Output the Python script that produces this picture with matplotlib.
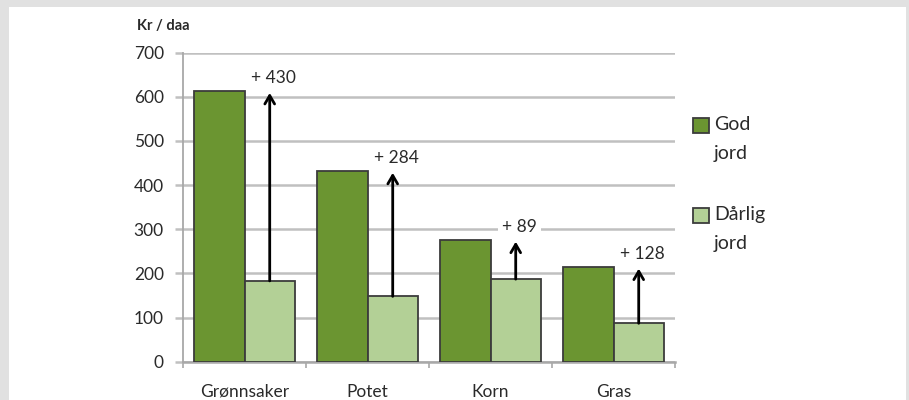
import numpy as np
import matplotlib.pyplot as plt
from matplotlib.patches import Rectangle

plt.rcParams['font.family'] = ['Lato', 'DejaVu Sans']

# Data
categories = ['Grønnsaker', 'Potet', 'Korn', 'Gras']
god_jord = [613, 432, 276, 215]
darlig_jord = [183, 148, 187, 87]
diff_labels = ['+ 430', '+ 284', '+ 89', '+ 128']
series_names = ['God\njord', 'Dårlig\njord']

dark_green = '#6b9531'
light_green = '#b3d096'
edge = '#3c3c3c'
grid_col = '#c0c0c0'
text_col = '#2a2a2a'

fig = plt.figure(figsize=(9.09, 4.0), dpi=100, facecolor='#e1e1e1')
# white card behind the chart
fig.patches.append(Rectangle((9 / 909, 0), 897 / 909, 393 / 400,
                             transform=fig.transFigure, facecolor='white',
                             edgecolor='none', zorder=-1))

ax = fig.add_axes([183 / 909, 38.3 / 400, 492 / 909, 309 / 400])
ax.set_facecolor('none')
ax.set_zorder(1)

x = np.arange(len(categories))
w = 0.41
ax.bar(x - w / 2, god_jord, width=w, color=dark_green, edgecolor=edge,
       linewidth=1.3, zorder=3)
ax.bar(x + w / 2, darlig_jord, width=w, color=light_green, edgecolor=edge,
       linewidth=1.3, zorder=3)

# arrows showing the gain from poor to good soil
for i in range(len(categories)):
    ax.annotate('', xy=(x[i] + w / 2, god_jord[i] - 4),
                xytext=(x[i] + w / 2, darlig_jord[i]),
                arrowprops=dict(arrowstyle='->,head_width=0.35,head_length=0.6',
                                color='black', lw=2, shrinkA=0, shrinkB=0),
                zorder=4)
    ax.text(x[i] + w / 2 + 0.03, god_jord[i] + 30, diff_labels[i], ha='center',
            va='center', fontsize=12.5, color=text_col, zorder=5,
            bbox=dict(facecolor='white', edgecolor='none', pad=3))

ax.set_xlim(-0.5, len(categories) - 0.5)
ax.set_ylim(0, 700)
ax.set_yticks(np.arange(0, 701, 100))
ax.yaxis.grid(True, color=grid_col, linewidth=1.8, zorder=0)
ax.set_axisbelow(True)

ax.set_xticks(x)
ax.set_xticklabels(categories)
ax.set_xticks(np.arange(-0.5, len(categories), 1.0), minor=True)
ax.tick_params(axis='x', which='major', length=0, pad=16, labelsize=12.5,
               labelcolor=text_col)
ax.tick_params(axis='x', which='minor', length=4, width=1.2, color='#a8a8a8',
               direction='out')
ax.tick_params(axis='y', length=5.8, width=1.8, color=grid_col, pad=8,
               labelsize=12.5, labelcolor=text_col)

for s in ['top', 'right']:
    ax.spines[s].set_visible(False)
ax.spines['left'].set_color('#a8a8a8')
ax.spines['left'].set_linewidth(1.3)
ax.spines['bottom'].set_color('#a8a8a8')
ax.spines['bottom'].set_linewidth(1.8)

fig.text(137 / 909, 1 - 26 / 400, 'Kr / daa', fontsize=10.5, fontweight='bold',
         color=text_col, ha='left', va='center')

# legend drawn by hand so the square sits on the first line of each label
legend_colors = [dark_green, light_green]
legend_tops = [118, 208]
for col, top, name in zip(legend_colors, legend_tops, series_names):
    fig.patches.append(Rectangle((693 / 909, 1 - (top + 15) / 400), 16 / 909,
                                 15 / 400, transform=fig.transFigure,
                                 facecolor=col, edgecolor=edge, linewidth=1.3,
                                 zorder=3))
    fig.text(714 / 909, 1 - (top - 2) / 400, name, fontsize=14, color=text_col,
             ha='left', va='top', linespacing=1.85)

fig.savefig('out.png', dpi=100, facecolor=fig.get_facecolor())
